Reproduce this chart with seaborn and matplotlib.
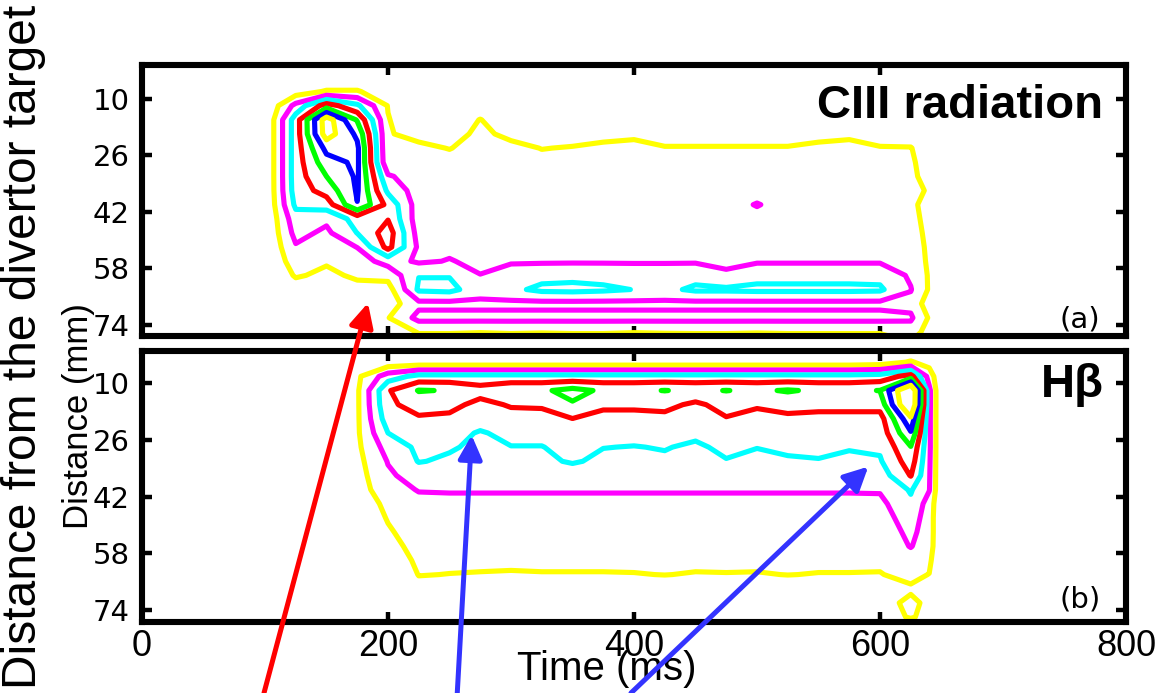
import numpy as np
import matplotlib
matplotlib.use("Agg")
import matplotlib.pyplot as plt
from matplotlib.patches import ConnectionPatch
import seaborn as sns

# Sample times (ms) and viewing-chord distances (mm) of the spectroscopic grid
time_ms = [100, 125, 150, 175, 200, 225, 250, 275, 300, 325, 350, 375, 400,
           425, 450, 475, 500, 525, 550, 575, 600, 625, 640, 650]
distance_mm = [0, 4, 8, 12, 16, 20, 24, 28, 32, 36, 40, 44, 48, 52, 56, 60,
               64, 68, 72, 76, 80]

# CIII brightness: one distance profile per time sample (contour units)
ciii_profiles = [
    [0, 0, 0, 0, 0, 0, 0, 0, 0, 0, 0, 0, 0, 0, 0, 0, 0, 0, 0, 0, 0],
    [0, 0, 0.5, 2.3, 3.5, 3.5, 3.5, 3.5, 3.5, 3.45, 3.2, 2.6, 2.3, 1.9, 1.5, 1.1, 0.5, 0, 0, 0, 0],
    [0, 0, 1.1, 4.5, 7.6, 7.5, 6.3, 5.6, 5.0, 4.4, 3.5, 2.2, 1.8, 1.4, 1.1, 0.8, 0.4, 0.1, 0, 0, 0],
    [0, 0, 1.1, 3.2, 4.9, 5.8, 6.2, 6.2, 6.15, 6.1, 5.97, 3.4, 3.02, 2.02, 1.5, 1.15, 0.7, 0.3, 0, 0, 0],
    [0, 0, 0.3, 0.95, 1.05, 1.1, 1.1, 1.2, 2.12, 2.8, 3.7, 3.95, 4.5, 4.3, 2.4, 1.3, 0.6, 0.5, 0.95, 0.5, 0],
    [0, 0, 0, 0.1, 0.3, 0.6, 1.3, 1.5, 1.5, 1.5, 1.5, 1.46, 1.6, 1.82, 1.86, 2.97, 3.15, 1.75, 2.3, 1.05, 0.6],
    [0, 0, 0, 0, 0, 0.3, 0.95, 1.5, 1.6, 1.65, 1.7, 1.72, 1.75, 1.8, 2.05, 2.95, 3.25, 1.75, 2.3, 1.05, 0.6],
    [0, 0, 0, 0, 1.05, 1.4, 1.5, 1.6, 1.65, 1.7, 1.72, 1.75, 1.78, 1.8, 1.8, 2.02, 2.5, 1.75, 2.3, 1.02, 0.6],
    [0, 0, 0, 0, 0, 0.55, 1.5, 1.6, 1.65, 1.7, 1.72, 1.75, 1.78, 1.8, 1.88, 2.5, 2.8, 1.75, 2.3, 1.05, 0.6],
    [0, 0, 0, 0, 0, 0.2, 0.95, 1.5, 1.65, 1.7, 1.72, 1.75, 1.78, 1.8, 1.88, 2.7, 3.2, 1.75, 2.3, 1.03, 0.6],
    [0, 0, 0, 0, 0, 0.3, 1.1, 1.5, 1.65, 1.7, 1.72, 1.75, 1.78, 1.8, 1.89, 2.75, 3.25, 1.75, 2.3, 1.05, 0.6],
    [0, 0, 0, 0, 0, 0.45, 1.4, 1.55, 1.65, 1.7, 1.72, 1.75, 1.78, 1.8, 1.89, 2.7, 3.15, 1.75, 2.3, 1.05, 0.6],
    [0, 0, 0, 0, 0, 0.6, 1.6, 1.62, 1.65, 1.7, 1.72, 1.75, 1.78, 1.8, 1.89, 2.6, 2.98, 1.75, 2.3, 1.02, 0.6],
    [0, 0, 0, 0, 0, 0.3, 1.1, 1.5, 1.65, 1.7, 1.72, 1.75, 1.78, 1.8, 1.89, 2.6, 2.8, 1.75, 2.3, 1.04, 0.6],
    [0, 0, 0, 0, 0, 0.3, 1.1, 1.5, 1.65, 1.7, 1.72, 1.75, 1.78, 1.8, 1.89, 2.7, 3.15, 1.75, 2.3, 1.05, 0.6],
    [0, 0, 0, 0, 0, 0.3, 1.1, 1.5, 1.65, 1.7, 1.72, 1.75, 1.78, 1.8, 1.8, 2.15, 3.15, 1.75, 2.3, 1.05, 0.6],
    [0, 0, 0, 0, 0, 0.3, 1.1, 1.5, 1.65, 1.7, 2.04, 1.75, 1.78, 1.8, 1.89, 2.7, 3.2, 1.75, 2.3, 1.03, 0.6],
    [0, 0, 0, 0, 0, 0.3, 1.1, 1.5, 1.65, 1.7, 1.72, 1.75, 1.78, 1.8, 1.89, 2.7, 3.2, 1.75, 2.3, 1.05, 0.6],
    [0, 0, 0, 0, 0, 0.45, 1.4, 1.55, 1.65, 1.7, 1.72, 1.75, 1.78, 1.8, 1.89, 2.7, 3.2, 1.75, 2.3, 1.05, 0.6],
    [0, 0, 0, 0, 0, 0.6, 1.6, 1.62, 1.65, 1.7, 1.72, 1.75, 1.78, 1.8, 1.89, 2.7, 3.2, 1.75, 2.3, 1.05, 0.6],
    [0, 0, 0, 0, 0, 0.3, 1.1, 1.5, 1.65, 1.7, 1.72, 1.75, 1.78, 1.8, 1.89, 2.7, 3.15, 1.75, 2.3, 1.05, 0.6],
    [0, 0, 0, 0, 0, 0.4, 1.05, 1.2, 1.3, 1.55, 1.3, 1.4, 1.5, 1.55, 1.6, 1.85, 2.05, 1.7, 2.15, 1.5, 0.8],
    [0, 0, 0, 0, 0, 0, 0.3, 0.4, 0.5, 0.8, 0.5, 0.6, 0.7, 0.8, 0.85, 0.9, 0.9, 0.5, 0.9, 0.6, 0.3],
    [0, 0, 0, 0, 0, 0, 0, 0, 0, 0, 0, 0, 0, 0, 0, 0, 0, 0, 0, 0, 0],
]

# H-beta brightness: one distance profile per time sample (contour units)
hbeta_profiles = [
    [0, 0, 0, 0, 0, 0, 0, 0, 0, 0, 0, 0, 0, 0, 0, 0, 0, 0, 0, 0, 0],
    [0, 0, 0, 0, 0, 0, 0, 0, 0, 0, 0, 0, 0, 0, 0, 0, 0, 0, 0, 0, 0],
    [0, 0, 0, 0, 0, 0, 0, 0, 0, 0, 0, 0, 0, 0, 0, 0, 0, 0, 0, 0, 0],
    [0, 0.2, 0.8, 0.85, 0.85, 0.85, 0.85, 0.8, 0.7, 0.6, 0.5, 0.4, 0.3, 0.2, 0.1, 0, 0, 0, 0, 0, 0],
    [0, 0.3, 2.5, 3.9, 3.8, 3.5, 3.0, 2.4, 2.05, 1.85, 1.64, 1.23, 1.06, 0.9, 0.75, 0.6, 0.4, 0.2, 0.05, 0, 0],
    [0, 0.4, 3.3, 5.05, 4.4, 3.87, 3.3, 3.2, 3.05, 2.4, 2.05, 1.75, 1.55, 1.4, 1.25, 1.12, 1.02, 0.8, 0.45, 0.3, 0.1],
    [0, 0.4, 3.3, 4.95, 4.3, 3.78, 3.4, 3.1, 2.85, 2.45, 2.08, 1.75, 1.55, 1.4, 1.28, 1.12, 0.99, 0.7, 0.45, 0.3, 0.1],
    [0, 0.4, 3.3, 4.4, 3.7, 3.5, 2.9, 2.8, 2.7, 2.45, 2.08, 1.75, 1.55, 1.4, 1.28, 1.12, 0.97, 0.7, 0.45, 0.3, 0.1],
    [0, 0.4, 3.3, 4.85, 4.1, 3.6, 3.3, 2.97, 2.8, 2.45, 2.08, 1.75, 1.55, 1.4, 1.28, 1.12, 0.95, 0.7, 0.45, 0.3, 0.1],
    [0, 0.4, 3.3, 4.85, 4.15, 3.6, 3.3, 2.97, 2.8, 2.45, 2.08, 1.75, 1.55, 1.4, 1.28, 1.12, 0.97, 0.7, 0.45, 0.3, 0.1],
    [0, 0.4, 3.3, 5.3, 4.9, 3.98, 3.5, 3.3, 3.1, 2.45, 2.08, 1.75, 1.55, 1.4, 1.28, 1.12, 0.97, 0.7, 0.45, 0.3, 0.1],
    [0, 0.4, 3.3, 4.85, 4.3, 3.5, 3.3, 3.02, 2.8, 2.45, 2.08, 1.75, 1.55, 1.4, 1.28, 1.12, 0.97, 0.7, 0.45, 0.3, 0.1],
    [0, 0.4, 3.3, 4.85, 4.3, 3.5, 3.3, 2.97, 2.8, 2.45, 2.08, 1.75, 1.55, 1.4, 1.28, 1.12, 0.98, 0.7, 0.45, 0.3, 0.1],
    [0, 0.4, 3.3, 5.02, 4.3, 3.7, 3.35, 3.05, 2.85, 2.45, 2.08, 1.75, 1.55, 1.4, 1.28, 1.12, 1.01, 0.7, 0.45, 0.3, 0.1],
    [0, 0.4, 3.3, 4.85, 3.79, 3.5, 3.2, 2.85, 2.75, 2.45, 2.08, 1.75, 1.55, 1.4, 1.28, 1.12, 0.97, 0.7, 0.45, 0.3, 0.1],
    [0, 0.4, 3.3, 5.02, 4.4, 3.93, 3.45, 3.2, 2.95, 2.45, 2.08, 1.75, 1.55, 1.4, 1.28, 1.12, 0.98, 0.7, 0.45, 0.3, 0.1],
    [0, 0.4, 3.3, 4.85, 4.15, 3.6, 3.3, 3.02, 2.8, 2.45, 2.08, 1.75, 1.55, 1.4, 1.28, 1.12, 0.97, 0.7, 0.45, 0.3, 0.1],
    [0, 0.4, 3.3, 5.08, 4.3, 3.82, 3.4, 3.15, 2.9, 2.45, 2.08, 1.75, 1.55, 1.4, 1.28, 1.12, 1.01, 0.7, 0.45, 0.3, 0.1],
    [0, 0.4, 3.3, 4.85, 4.3, 3.7, 3.4, 3.2, 2.95, 2.45, 2.08, 1.75, 1.55, 1.4, 1.28, 1.12, 0.98, 0.7, 0.45, 0.3, 0.1],
    [0, 0.4, 3.3, 4.85, 4.3, 3.7, 3.35, 3.05, 2.85, 2.45, 2.08, 1.75, 1.55, 1.4, 1.28, 1.12, 0.98, 0.7, 0.45, 0.3, 0.1],
    [0, 0.5, 3.4, 5.02, 4.4, 3.6, 3.4, 3.15, 2.9, 2.5, 2.1, 1.75, 1.55, 1.4, 1.28, 1.12, 0.97, 0.7, 0.75, 0.75, 0.2],
    [0, 1.1, 4.4, 8.5, 8.4, 6.8, 5.9, 4.95, 4.5, 4.05, 3.1, 2.8, 2.5, 2.25, 2.05, 1.5, 1.2, 0.9, 1.15, 1.05, 0.5],
    [0, 0.6, 1.6, 2.22, 2.22, 2.2, 2.2, 2.2, 2.15, 2.1, 2.05, 1.6, 1.5, 1.5, 1.45, 1.2, 0.98, 0.7, 0.85, 0.85, 0.3],
    [0, 0, 0, 0, 0, 0, 0, 0, 0, 0, 0, 0, 0, 0, 0, 0, 0, 0, 0, 0, 0],
]

contour_levels = [1, 2, 3, 4, 5, 6, 7]
level_colors = ["#ffff00", "#ff00ff", "#00ffff", "#ff0000",
                "#00ff00", "#0000ff", "#ffff00"]
distance_ticks = [10, 26, 42, 58, 74]
time_ticks = [0, 200, 400, 600, 800]

panel_titles = ["CIII radiation", "H\u03b2"]
panel_tags = ["(a)", "(b)"]

# Annotation arrows: (tail x in figure fraction, target time, target distance, panel, colour)
arrow_specs = [
    (0.2266, 183.7, 67.8, 0, "#ff0000"),
    (0.3925, 268.0, 24.6, 1, "#3333ff"),
    (0.5416, 590.5, 33.5, 1, "#3333ff"),
]

sns.set_style("white")
plt.rcParams["font.family"] = ["Liberation Sans", "DejaVu Sans"]
plt.rcParams["text.color"] = "black"
plt.rcParams["xtick.color"] = "black"
plt.rcParams["ytick.color"] = "black"
plt.rcParams["axes.labelcolor"] = "black"

fig = plt.figure(figsize=(11.65, 6.93), dpi=100)
ax_top = fig.add_axes([0.12189, 0.51587, 0.84464, 0.39033])
ax_bot = fig.add_axes([0.12189, 0.10245, 0.84464, 0.39177])
axes = [ax_top, ax_bot]
ylims = [(77.0, 0.5), (77.4, 0.7)]

for i, (ax, profiles) in enumerate(zip(axes, [ciii_profiles, hbeta_profiles])):
    field = np.array(profiles).T
    ax.contour(time_ms, distance_mm, field, levels=contour_levels,
               colors=level_colors, linewidths=3.7)
    ax.set_xlim(0, 800)
    ax.set_ylim(*ylims[i])
    ax.set_xticks(time_ticks)
    ax.set_yticks(distance_ticks)
    ax.set_yticklabels([str(v) for v in distance_ticks],
                       fontsize=21, family="DejaVu Sans", color="black")
    ax.tick_params(axis="both", direction="in", length=7, width=3.2,
                   top=True, right=True, left=True, bottom=True, pad=9,
                   colors="black")
    for sp in ax.spines.values():
        sp.set_linewidth(4.4)
        sp.set_color("black")
    ax.text(0.977, 0.85 if i == 0 else 0.873, panel_titles[i],
            transform=ax.transAxes, ha="right", va="center",
            fontsize=34, fontweight="bold", color="black")
    ax.text(0.974, 0.06 if i == 0 else 0.082, panel_tags[i],
            transform=ax.transAxes, ha="right", va="center",
            fontsize=21, family="DejaVu Sans", color="black")
    ax.grid(False)

ax_top.tick_params(labelbottom=False)
ax_bot.set_xticklabels([str(v) for v in time_ticks], fontsize=26,
                       color="black")
ax_bot.tick_params(axis="x", pad=5)

fig.text(0.521, 0.034, "Time (ms)", ha="center", va="center", fontsize=29,
         color="black")
fig.text(0.067, 0.40, "Distance (mm)", rotation=90, ha="center",
         va="center", fontsize=25, color="black")
fig.text(0.0206, 0.5, "Distance from the divertor target", rotation=90,
         ha="center", va="center", fontsize=34.5, color="black")

for tail_x, t_tip, d_tip, panel, color in arrow_specs:
    arrow = ConnectionPatch(xyA=(tail_x, 0.0), coordsA="figure fraction",
                            xyB=(t_tip, d_tip), coordsB=axes[panel].transData,
                            arrowstyle="-|>", mutation_scale=36, lw=3.6,
                            color=color, shrinkA=0, shrinkB=0, zorder=10)
    fig.add_artist(arrow)

fig.savefig("out.png", dpi=100)
